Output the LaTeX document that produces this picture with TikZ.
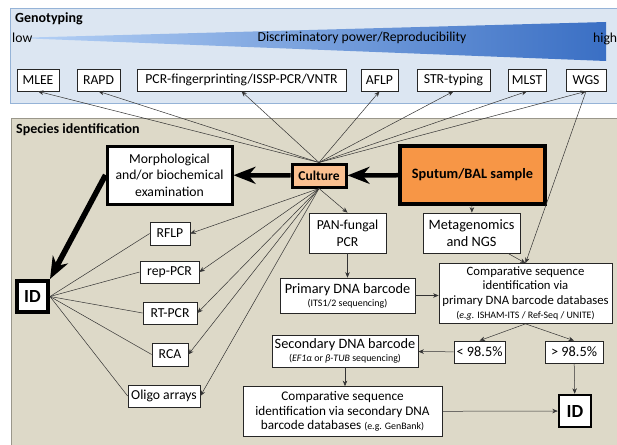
\documentclass[tikz,border=0pt]{standalone}
\usepackage{fontspec}
\setmainfont{Carlito}
\usetikzlibrary{arrows.meta}

\definecolor{genofill}{HTML}{DCE6F2}
\definecolor{genoline}{HTML}{95B3D7}
\definecolor{specfill}{HTML}{DDD9C8}
\definecolor{specline}{HTML}{9A978B}
\definecolor{culfill}{HTML}{FAC090}
\definecolor{sputfill}{HTML}{F79646}
\definecolor{wedgelight}{HTML}{B4D0F5}
\definecolor{wedgedark}{HTML}{3A6FC4}

\newcommand{\smallnote}[1]{{\fontsize{9.9}{11}\selectfont #1}}

\begin{document}
\begin{tikzpicture}[x=1pt, y=-1pt,
    method/.style ={draw=black!85, fill=white, line width=0.7pt, inner sep=1pt, minimum height=22pt, font=\fontsize{13.7}{16}\selectfont},
    keybox/.style ={method, draw=black, line width=3pt},
    title/.style ={anchor=west, inner sep=0pt, font=\fontsize{14}{16}\selectfont\bfseries},
    link/.style ={draw=black!80, line width=0.5pt},
    arr/.style ={link, -{Stealth[length=5.5pt, width=4.5pt]}},
    bigarr/.style ={line width=4.5pt, -{Stealth[length=22pt, width=17pt, inset=7pt]}}]
   \clip (0,0) rectangle (617,444);

   \draw[draw=genoline, fill=genofill, line width=0.8pt] (10,8) rectangle (640,103);
   \draw[draw=specline, fill=specfill, line width=0.8pt] (11,118) rectangle (640,460);
   \shade[left color=wedgelight, right color=wedgedark] (30,37.5) -- (606,22) -- (606,61) -- (30,38.5) -- cycle;

   \node[title] (GenoT) at (15,19) {Genotyping};
   \node[anchor=west, inner sep=0pt, font=\fontsize{13.7}{16}\selectfont] (LowT) at (12,38) {low};
   \node[inner sep=0pt, font=\fontsize{13.7}{16}\selectfont] (DiscT) at (362,38) {Discriminatory power/Reproducibility};
   \node[anchor=west, inner sep=0pt, font=\fontsize{13.7}{16}\selectfont] (HighT) at (593,39) {high};
   \node[title] (SpecT) at (16,130) {Species identification};

   \node[method, minimum width=42pt] (MLEE) at (38,80) {MLEE};
   \node[method, minimum width=43pt] (RAPD) at (98.5,80) {RAPD};
   \node[method, minimum width=209pt] (PCRF) at (241.5,80) {PCR-fingerprinting/ISSP-PCR/VNTR};
   \node[method, minimum width=37pt] (AFLP) at (379.5,80) {AFLP};
   \node[method, minimum width=73pt] (STR) at (453.5,80) {STR-typing};
   \node[method, minimum width=38pt] (MLST) at (527,80) {MLST};
   \node[method, minimum width=40pt] (WGS) at (586,80) {WGS};

   \node[keybox, align=center, minimum width=125pt, minimum height=58pt, font=\fontsize{13.7}{16.5}\selectfont] (Mor) at (169.5,175) {Morphological\\and/or biochemical\\examination};
   \node[keybox, fill=culfill, minimum width=54pt, minimum height=23pt, font=\fontsize{13.5}{16}\selectfont\bfseries] (Cul) at (319,175.5) {Culture};
   \node[keybox, fill=sputfill, line width=4pt, minimum width=145pt, minimum height=58pt, font=\fontsize{14.3}{16}\selectfont\bfseries] (Spu) at (472.5,175) {Sputum/BAL sample};
   \node[keybox, line width=4pt, minimum width=31pt, minimum height=31pt, font=\fontsize{18.5}{20}\selectfont\bfseries] (IDa) at (32.5,296.5) {ID};

   \node[method, minimum width=40pt, minimum height=23pt] (RFLP) at (170,233.5) {RFLP};
   \node[method, minimum width=59pt] (REP) at (169.5,272) {rep-PCR};
   \node[method, minimum width=54pt] (RT) at (170,313) {RT-PCR};
   \node[method, minimum width=36pt, minimum height=23pt] (RCA) at (170,354.5) {RCA};
   \node[method, minimum width=72pt] (Oligo) at (164,396) {Oligo arrays};

   \node[method, align=center, minimum width=77pt, minimum height=40pt, font=\fontsize{13.7}{17}\selectfont] (PAN) at (347.5,233) {PAN-fungal\\PCR};
   \node[method, align=center, minimum width=97pt, minimum height=40pt, font=\fontsize{14.3}{17}\selectfont] (Meta) at (471.5,233) {Metagenomics\\and NGS};
   \node[method, align=center, minimum width=135pt, minimum height=35pt, font=\fontsize{14.3}{13}\selectfont] (Pri) at (347.5,295.5) {Primary DNA barcode\\\smallnote{(ITS1/2 sequencing)}};
   \node[method, align=center, minimum width=173pt, minimum height=60pt, font=\fontsize{12.7}{14.5}\selectfont] (CompA) at (525.5,293.5) {Comparative sequence\\identification via\\primary DNA barcode databases\\\smallnote{(\textit{e.g.} ISHAM-ITS / Ref-Seq / UNITE)}};
   \node[method, align=center, minimum width=146pt, minimum height=32pt, font=\fontsize{14.3}{13}\selectfont] (Sec) at (345,351) {Secondary DNA barcode\\\smallnote{(\textit{EF1α} or \textit{β-TUB} sequencing)}};
   \node[method, minimum width=51pt, font=\fontsize{14.3}{16}\selectfont] (Low) at (479.5,352) {< 98.5\%};
   \node[method, minimum width=58pt, font=\fontsize{14.3}{16}\selectfont] (High) at (574,352) {> 98.5\%};
   \node[method, align=center, minimum width=199pt, minimum height=50pt, font=\fontsize{13.2}{14.5}\selectfont] (CompB) at (342.5,411.5) {Comparative sequence\\identification via secondary DNA\\barcode databases \smallnote{(e.g. GenBank)}};
   \node[keybox, line width=2.5pt, minimum width=32pt, minimum height=32pt, font=\fontsize{18.5}{20}\selectfont\bfseries] (IDb) at (575,411) {ID};

   \draw[arr] (Cul.north) to (MLEE.south);
   \draw[arr] (Cul.north) to (RAPD.south);
   \draw[arr] (Cul.north) to (PCRF.south);
   \draw[arr] (Cul.north) to (AFLP.south);
   \draw[arr] (Cul.north) to (STR.south);
   \draw[arr] (Cul.north) to (MLST.south);
   \draw[arr] (Cul.north) to (WGS.south);
   \draw[arr] (WGS.south) to (CompA.north);
   \draw[arr] (Meta) to (CompA.north);

   \draw[bigarr] (Spu) to (Cul);
   \draw[bigarr] (Cul) to (Mor);
   \draw[bigarr, line width=5.5pt] (Mor.west) to (IDa.north east);

   \draw[arr] (Cul.south) to (RFLP.east);
   \draw[arr] (Cul.south) to (REP.east);
   \draw[arr] (Cul.south) to (RT.east);
   \draw[arr] (Cul.south) to (RCA.east);
   \draw[arr] (Cul.south) to (Oligo.east);
   \draw[arr] (Cul.south) to (PAN.north);
   \draw[link] (RFLP.west) to (IDa.east);
   \draw[link] (REP.west) to (IDa.east);
   \draw[link] (RT.west) to (IDa.east);
   \draw[link] (RCA.west) to (IDa.east);
   \draw[link] (Oligo.west) to (IDa.east);

   \draw[arr] (Spu) to (Meta);
   \draw[arr] (PAN) to (Pri);
   \draw[arr] (Pri.east) to (Pri.east -| CompA.west);
   \draw[arr] (CompA.south) to (Low.north);
   \draw[arr] (CompA.south) to (High.north);
   \draw[arr] (Low) to (Sec);
   \draw[arr] (Sec) to (Sec |- CompB.north);
   \draw[arr] (CompB) to (IDb);
   \draw[arr] (High) to (IDb);
 \end{tikzpicture}
\end{document}
